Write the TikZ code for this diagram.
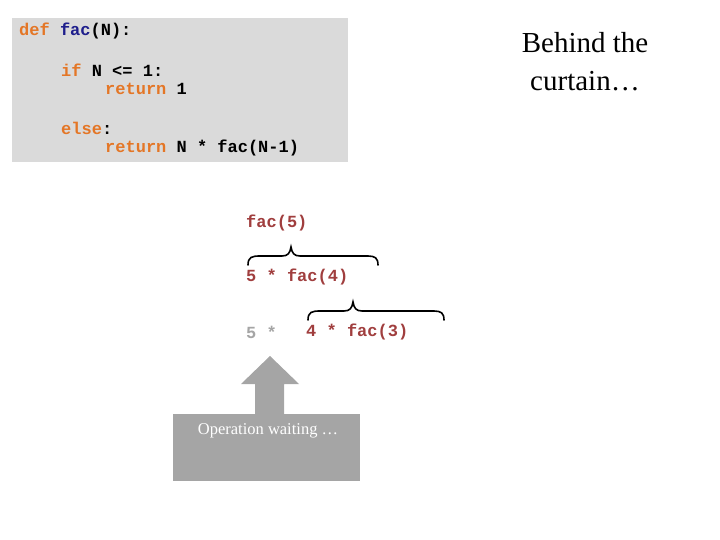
\documentclass[tikz,border=0pt]{standalone}
\usepackage{fontspec}
\setmainfont{Liberation Serif}
\newfontfamily\codef{Liberation Mono}
\definecolor{kw}{RGB}{228,118,38}
\definecolor{fn}{RGB}{30,30,140}
\definecolor{rc}{RGB}{160,62,62}
\definecolor{bg}{RGB}{218,218,218}
\definecolor{ag}{RGB}{165,165,165}
\begin{document}
\begin{tikzpicture}[x=1pt,y=-1pt,
  code/.style={anchor=west,inner sep=0,font=\codef\bfseries\fontsize{17}{17}\selectfont},
  brc/.style={draw=black,line width=1.6pt,line cap=round}]
\useasboundingbox (0,0) rectangle (720,540);
\fill[bg] (12,18) rectangle (348,162);
\node[code] (l1) at (19,31) {\textcolor{kw}{def} \textcolor{fn}{fac}(N):};
\node[code] (l2) at (61,70) {\textcolor{kw}{if} N <= 1:};
\node[code] (l3) at (105,89) {\textcolor{kw}{return} 1};
\node[code] (l4) at (61,128) {\textcolor{kw}{else}:};
\node[code] (l5) at (105,148) {\textcolor{kw}{return} N * fac(N-1)};
\node[align=center,font=\fontsize{29}{38}\selectfont] (t) at (585,62) {Behind the\\curtain…};
\node[code,text=rc] (f5) at (246,223) {fac(5)};
\node[code,text=rc] (f4) at (246,277) {5 * fac(4)};
\node[code,text=ag] (w) at (246,332) {5 *};
\node[code,text=rc] (f3) at (306,332) {4 * fac(3)};
\draw[brc] (248,265) .. controls (248,257) and (252,256) .. (260,256) -- (282,256) .. controls (288,256) and (290,253) .. (291,247)
  .. controls (292,253) and (294,256) .. (300,256) -- (368,256) .. controls (375,256) and (378,258) .. (378,265);
\draw[brc] (308,320) .. controls (308,312) and (312,311) .. (320,311) -- (344,311) .. controls (350,311) and (352,308) .. (353,302)
  .. controls (354,308) and (356,311) .. (362,311) -- (434,311) .. controls (441,311) and (444,313) .. (444,320);
\fill[ag] (173,414) rectangle (360,481);
\node[text=white,font=\fontsize{16.5}{16}\selectfont] (op) at (268,431) {Operation waiting …};
\fill[ag] (255,414) -- (255,384) -- (241,384) -- (270,356) -- (299,384) -- (284,384) -- (284,414) -- cycle;
\end{tikzpicture}
\end{document}
